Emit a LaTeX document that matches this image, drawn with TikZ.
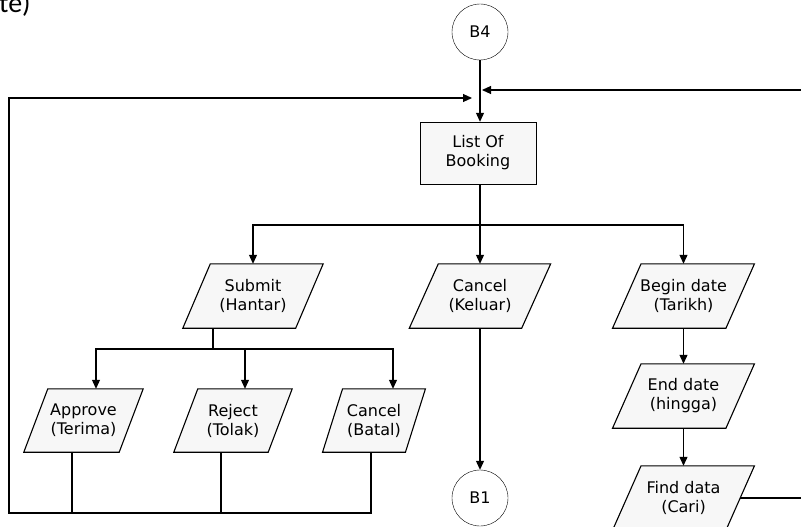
\documentclass[tikz,border=0pt]{standalone}
\usepackage{fontspec}
\setmainfont{DejaVu Sans}
\newfontfamily\calib{Carlito}
\usetikzlibrary{arrows.meta}
\pgfdeclarelayer{background}
\pgfsetlayers{background,main}
\definecolor{pfill}{HTML}{F7F7F7}
\tikzset{
  lbl/.style={inner sep=0pt, align=center, font=\fontsize{16}{19}\selectfont},
  pnode/.style={lbl, shape=rectangle, minimum height=64},
  rectbox/.style={lbl, draw, fill=pfill, minimum width=116, minimum height=62},
  circbox/.style={lbl, draw, circle, fill=white, minimum size=56},
  ln/.style={line width=1.1pt, draw=black},
  arr/.style={ln, -{Triangle[length=9pt,width=8pt]}},
  pshapestyle/.style={line width=1.1pt, draw=black, fill=pfill, line join=miter}
}
\newcommand\pshape[2]{%
  \begin{pgfonlayer}{background}
    \path[pshapestyle] ([xshift=#2/2]#1.north west) -- ([xshift=#2/2]#1.north east)
      -- ([xshift=-#2/2]#1.south east) -- ([xshift=-#2/2]#1.south west) -- cycle;
  \end{pgfonlayer}}
\begin{document}
\begin{tikzpicture}[x=1pt,y=-1pt]
\useasboundingbox (0,0) rectangle (801,527);

\node[font=\calib\fontsize{28}{28}\selectfont, anchor=base west, inner sep=0pt] (frag) at (-1,13) {te)};

\node[circbox] (b4) at (480,32) {B4};
\node[rectbox] (lob) at (478,153) {List Of\\Booking};

\node[pnode, minimum width=112.5] (sub) at (253,296) {Submit\\(Hantar)};
\pshape{sub}{27.5}
\node[pnode, minimum width=112] (kel) at (480,296) {Cancel\\(Keluar)};
\pshape{kel}{29}
\node[pnode, minimum width=113] (bd) at (683.5,296) {Begin date\\(Tarikh)};
\pshape{bd}{28.5}
\node[pnode, minimum width=113] (ed) at (683.5,396) {End date\\(hingga)};
\pshape{ed}{28.5}
\node[pnode, minimum width=113] (fd) at (683.5,498) {Find data\\(Cari)};
\pshape{fd}{28.5}

\node[pnode, minimum width=95, minimum height=63] (appr) at (83.5,420.5) {Approve\\(Terima)};
\pshape{appr}{24}
\node[pnode, minimum width=94, minimum height=63] (rej) at (233,420.5) {Reject\\(Tolak)};
\pshape{rej}{24}
\node[pnode, minimum width=82.5, minimum height=63] (bat) at (374,420.5) {Cancel\\(Batal)};
\pshape{bat}{20}

\node[circbox] (b1) at (480,498) {B1};

% coordinates for free ends and junctions
\coordinate (lin) at (472,98);
\coordinate (rin) at (482,90);
\coordinate (rout) at (803,90);
\coordinate (split1) at (480,225);
\coordinate (split2) at (213,349);
\coordinate (loopbl) at (9,513);

% connectors
\draw[arr] (b4.south) -- (b4.south |- lob.north);
\draw[arr] (rout) -- (rin);
\draw[ln] (split1 |- lob.south) -- (split1);
\draw[arr] (split1) -| (sub.north);
\draw[arr] (split1) -| (bd.north);
\draw[arr] (split1) -- (kel.north);
\draw[arr] (kel.south) -- (b1.north);
\draw[arr] (bd.south) -- (ed.north);
\draw[arr] (ed.south) -- (fd.north);
\draw[ln] (fd.east) -- (rout |- fd.east);

\draw[ln] (split2 |- sub.south) -- (split2);
\draw[arr] (split2) -| ([xshift=12.5]appr.north);
\draw[arr] (split2) -| ([xshift=12]rej.north);
\draw[arr] (split2) -| ([xshift=19]bat.north);

\draw[arr] ([xshift=-11.5]appr.south) |- (loopbl) |- (lin);
\draw[ln] ([xshift=-12]rej.south) |- (loopbl);
\draw[ln] ([xshift=-3]bat.south) |- (loopbl);
\end{tikzpicture}
\end{document}
